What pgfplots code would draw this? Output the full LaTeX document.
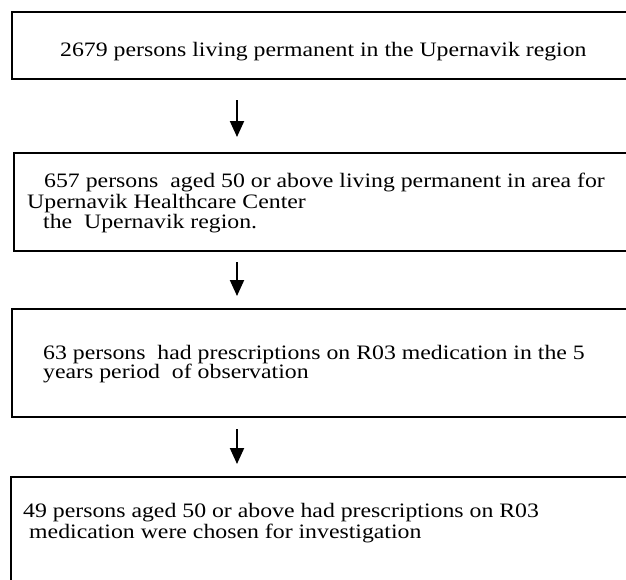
\documentclass[border=0pt]{standalone}
\usepackage{pgfplots}
\pgfplotsset{compat=1.18}
\usepackage{fontspec}
\setmainfont{Liberation Serif}
\usetikzlibrary{arrows.meta}
\newcommand{\T}[1]{\scalebox{1.16}[1]{\fontsize{20.5}{20.5}\selectfont #1}}
\begin{document}
\begin{tikzpicture}
\begin{axis}[width=626pt, height=579pt, scale only axis,
  xmin=0, xmax=626, ymin=0, ymax=579, y dir=reverse,
  hide axis, clip=true]
% invisible frame so that the picture keeps the whole 626x579 area
\addplot[draw=none, forget plot] coordinates {(0,0) (626,579)};
% boxes (open to the right, cut by the picture edge)
\addplot[black, line width=2.2pt] coordinates {(700,12) (12,12) (12,79) (700,79)};
\addplot[black, line width=2.2pt] coordinates {(700,153) (14,153) (14,251) (700,251)};
\addplot[black, line width=2.2pt] coordinates {(700,309) (12,309) (12,417) (700,417)};
\addplot[black, line width=2.2pt] coordinates {(700,477) (11,477) (11,600)};
% arrows
\addplot[black, line width=2pt, -{Triangle[width=14pt,length=16pt]}] coordinates {(237,100) (237,137)};
\addplot[black, line width=2pt, -{Triangle[width=14pt,length=16pt]}] coordinates {(237,262) (237,296)};
\addplot[black, line width=2pt, -{Triangle[width=14pt,length=16pt]}] coordinates {(237,429) (237,464)};
% texts
\begin{scope}[every node/.style={anchor=base west, inner sep=0pt}]
\node at (axis cs:60,56) {\T{2679 persons living permanent in the Upernavik region}};
\node at (axis cs:44,187) {\T{657 persons\ \ aged 50 or above living permanent in area for}};
\node at (axis cs:27,208) {\T{Upernavik Healthcare Center}};
\node at (axis cs:43,228) {\T{the\ \ Upernavik region.}};
\node at (axis cs:43,359) {\T{63 persons\ \ had prescriptions on R03 medication in the 5}};
\node at (axis cs:43,378) {\T{years period\ \ of observation}};
\node at (axis cs:23,517) {\T{49 persons aged 50 or above had prescriptions on R03}};
\node at (axis cs:29,538) {\T{medication were chosen for investigation}};
\end{scope}
\end{axis}
\end{tikzpicture}
\end{document}
